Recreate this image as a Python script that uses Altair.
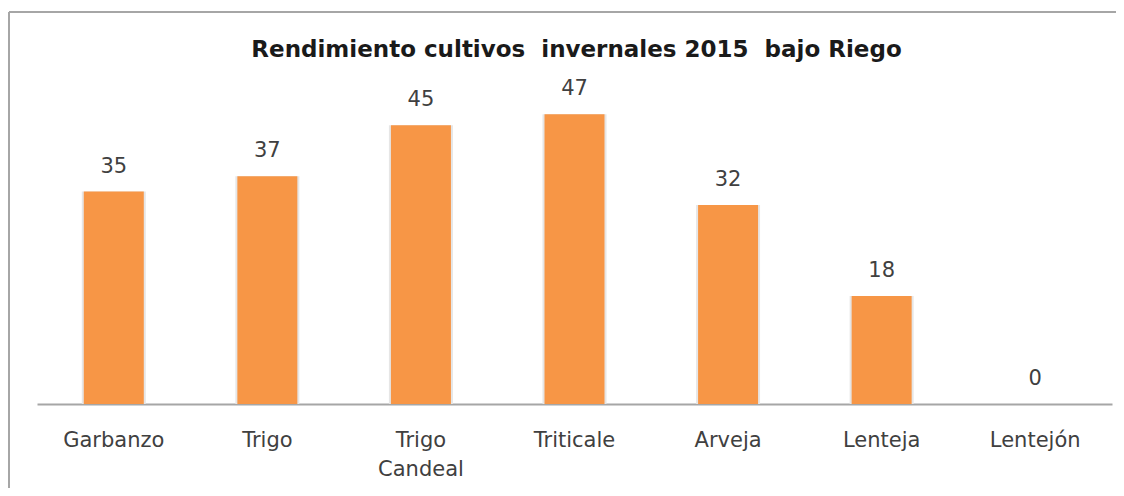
import altair as alt
import pandas as pd

title_text = "Rendimiento cultivos \u00a0invernales 2015 \u00a0bajo Riego"
categories = ["Garbanzo", "Trigo", "Trigo Candeal", "Triticale", "Arveja", "Lenteja", "Lentejón"]
values = [34.6, 37.1, 45.4, 47.2, 32.4, 17.6, 0.0]

df = pd.DataFrame({"cultivo": categories, "rend": values})

W, H = 1075, 307
PAD = {"left": 29, "top": 89, "right": 4, "bottom": 84}

x_enc = alt.X(
    "cultivo:N",
    sort=categories,
    title=None,
    scale=alt.Scale(paddingInner=0, paddingOuter=0),
    axis=alt.Axis(
        ticks=False,
        domainColor="#a6a6a6",
        domainWidth=2,
        labelAngle=0,
        labelFont="DejaVu Sans",
        labelFontSize=21,
        labelColor="#404040",
        labelPadding=25,
        labelLineHeight=29,
        labelExpr="split(datum.label, ' ')",
        grid=False,
    ),
)
y_enc = alt.Y("rend:Q", scale=alt.Scale(domain=[0, 50]), axis=None)

base = alt.Chart(df)

shadow = base.mark_bar(size=64, color="#e6e6e6").encode(x=x_enc, y=y_enc)
bars = base.mark_bar(size=60, color="#F79646").encode(x=x_enc, y=y_enc)
labels = base.mark_text(
    dy=-19, baseline="alphabetic", font="DejaVu Sans", fontSize=21, color="#404040"
).encode(x=x_enc, y=y_enc, text=alt.Text("rend:Q", format=".0f"))

one = pd.DataFrame({"t": [title_text]})
title = alt.Chart(one).mark_text(
    font="DejaVu Sans", fontWeight="bold", fontSize=23, color="#1a1a1a", baseline="alphabetic", align="center"
).encode(x=alt.value(W / 2 + 2), y=alt.value(-40), text="t:N")

frame_top = alt.Chart(one).mark_rule(color="#a6a6a6", strokeWidth=2).encode(
    x=alt.value(-28), x2=alt.value(1090), y=alt.value(-85)
)
frame_left = alt.Chart(one).mark_rule(color="#a6a6a6", strokeWidth=2).encode(
    x=alt.value(-28), y=alt.value(-85), y2=alt.value(400)
)

chart = (
    alt.layer(frame_top, frame_left, title, shadow, bars, labels)
    .properties(width=W, height=H, padding=PAD, autosize=alt.AutoSizeParams(type="none"), background="white")
    .configure_view(stroke=None)
)

chart.save("out.html", embed_options={"renderer": "svg", "actions": False})
